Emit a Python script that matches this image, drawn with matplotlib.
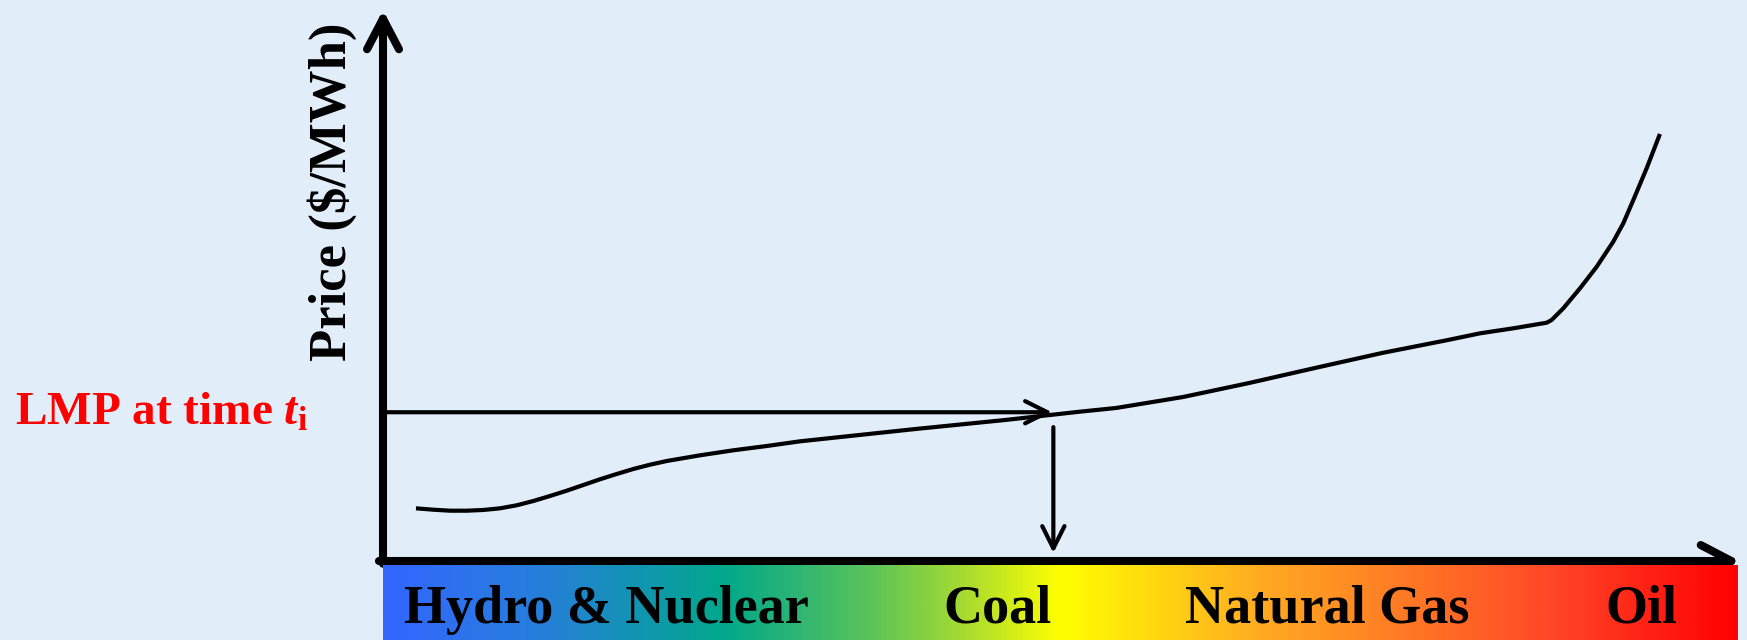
import numpy as np
import matplotlib.pyplot as plt
from matplotlib.colors import LinearSegmentedColormap

# supply curve (merit order): share of capacity vs price, both in % of axis
capacity = [2.43, 3.71, 4.94, 6.17, 7.39, 8.62, 9.85, 11.08, 12.31, 13.54,
            14.76, 15.99, 17.22, 18.45, 19.68, 20.91, 23.36, 25.81, 28.28, 30.73,
            39.26, 45.84, 51.36, 54.02, 58.95, 63.82, 68.68, 73.62, 78.48, 80.84,
            83.29, 85.76, 86.12, 86.98, 88.21, 89.44, 90.66, 91.40, 92.14, 93.12,
            94.10]
price = [9.56, 9.31, 9.13, 9.13, 9.26, 9.56, 10.11, 10.89, 11.80, 12.76,
         13.79, 14.83, 15.79, 16.70, 17.48, 18.15, 19.18, 20.09, 20.87, 21.72,
         23.96, 25.59, 27.10, 27.77, 29.76, 32.30, 35.03, 37.75, 40.11, 41.32,
         42.23, 43.25, 43.74, 45.86, 49.49, 53.41, 57.95, 61.29, 65.52, 71.27,
         77.50]

# LMP level and the capacity where it meets the curve
lmp_price = 27.0
lmp_capacity = 49.3

fuels = ["Hydro & Nuclear", "Coal", "Natural Gas", "Oil"]
fuel_x = [16.5, 45.3, 69.6, 92.7]

# colour stops of the fuel bar
bar_stops = [0.0, 0.12, 0.25, 0.36, 0.43, 0.5, 0.65, 0.87, 1.0]
bar_colors = ["#3366FF", "#2580D8", "#00A88C", "#5CC35A", "#A8DC30",
              "#FFFF00", "#FFAA22", "#FF4428", "#FF0000"]

BG = "#E1EEFA"
SERIF = "Liberation Serif"

plt.rcParams["font.family"] = [SERIF, "DejaVu Serif"]
plt.rcParams["mathtext.fontset"] = "custom"
plt.rcParams["mathtext.rm"] = "Liberation Serif:bold"
plt.rcParams["mathtext.it"] = "Liberation Serif:italic:bold"

W, H = 1747, 640
fig = plt.figure(figsize=(W / 100, H / 100), dpi=100, facecolor=BG)

# main plotting area (pixel box of the axes in the picture)
left, right, top, bottom = 383, 1740, 10, 561
ax = fig.add_axes([left / W, 1 - bottom / H, (right - left) / W, (bottom - top) / H])
ax.set_xlim(0, 100)
ax.set_ylim(0, 100)
ax.axis("off")
ax.patch.set_alpha(0)

ax.plot(capacity, price, color="black", lw=3.0, solid_joinstyle="round",
        solid_capstyle="butt")

# axes arrows
axis_arrow = dict(arrowstyle="->,head_length=2.2,head_width=1.15", lw=5.8,
                  color="black", shrinkA=0, shrinkB=0, mutation_scale=10)
ax.annotate("", xy=(0, 1), xytext=(0, -0.005), xycoords="axes fraction",
            arrowprops=axis_arrow)
ax.annotate("", xy=(1, 0), xytext=(-0.003, 0), xycoords="axes fraction",
            arrowprops=axis_arrow)

# LMP arrows
thin_arrow = dict(arrowstyle="->,head_length=1.6,head_width=0.8", lw=3.0,
                  color="black", shrinkA=0, shrinkB=0, mutation_scale=10)
ax.annotate("", xy=(lmp_capacity, lmp_price), xytext=(0, lmp_price),
            arrowprops=thin_arrow)
ax.annotate("", xy=(lmp_capacity + 0.1, 1.45), xytext=(lmp_capacity + 0.1, lmp_price - 2.7),
            arrowprops=thin_arrow)

# fuel colour bar
bar_top = 565
bax = fig.add_axes([left / W, 0, (1738 - left) / W, (H - bar_top) / H])
cmap = LinearSegmentedColormap.from_list("fuel", list(zip(bar_stops, bar_colors)))
grad = np.linspace(0, 1, 512).reshape(1, -1)
bax.imshow(grad, aspect="auto", cmap=cmap, extent=[0, 100 * 1355 / 1357, 0, 1])
bax.set_xlim(0, 100 * 1355 / 1357)
bax.set_ylim(0, 1)
bax.axis("off")
for name, x in zip(fuels, fuel_x):
    bax.text(x, 0.227, name, ha="center", va="baseline", fontsize=39,
             fontweight="bold", color="black")

# labels
fig.text(332 / W, 1 - 192 / H, "Price ($/MWh)", rotation=90, ha="center",
         va="center", fontsize=38, fontweight="bold", color="black")
fig.text(15 / W, 1 - 425 / H, r"LMP at time $\mathit{t}_{\mathrm{i}}$",
         ha="left", va="baseline", fontsize=34, fontweight="bold", color="#FF0000")

fig.savefig("out.png", dpi=100, facecolor=BG)
